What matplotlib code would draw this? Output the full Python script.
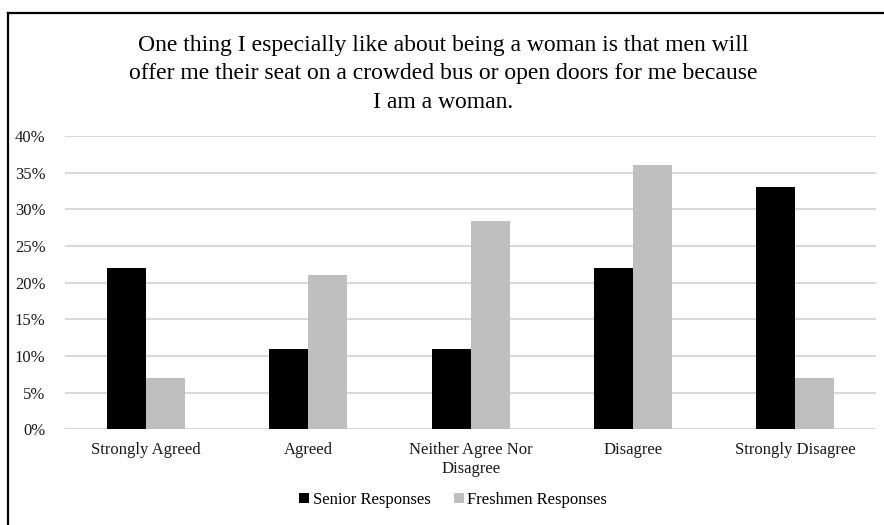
import matplotlib
matplotlib.use("Agg")
import matplotlib.pyplot as plt
from matplotlib.lines import Line2D
import numpy as np

categories = ["Strongly Agreed", "Agreed", "Neither Agree Nor\nDisagree",
              "Disagree", "Strongly Disagree"]
senior = [0.22, 0.11, 0.11, 0.22, 0.33]
freshmen = [0.07, 0.21, 0.284, 0.361, 0.07]
yticks = [0, 0.05, 0.10, 0.15, 0.20, 0.25, 0.30, 0.35, 0.40]
title = ("One thing I especially like about being a woman is that men will\n"
         "offer me their seat on a crowded bus or open doors for me because\n"
         "I am a woman.")

plt.rcParams['font.family'] = ['Liberation Serif', 'DejaVu Serif']

fig = plt.figure(figsize=(8.84, 5.25), dpi=100)
ax = fig.add_axes([0.0735, 0.1823, 0.918, 0.5587])

x = np.arange(len(categories))
w = 0.24
ax.bar(x - w / 2, senior, w, color="black", label="Senior Responses", zorder=3)
ax.bar(x + w / 2, freshmen, w, color="#bfbfbf", label="Freshmen Responses", zorder=3)

ax.set_xlim(-0.5, len(categories) - 0.5)
ax.set_ylim(0, 0.40)
ax.set_yticks(yticks)
ax.set_yticklabels([f"{int(round(t * 100))}%" for t in yticks])
ax.set_xticks(x)
ax.set_xticklabels(categories, linespacing=1.25)
ax.tick_params(axis="both", length=0, labelsize=12, colors="#1a1a1a")
ax.tick_params(axis="y", pad=14)
ax.tick_params(axis="x", pad=9)
ax.grid(axis="y", color="#d9d9d9", lw=1.5, zorder=0)
for s in ax.spines.values():
    s.set_visible(False)

fig.text(0.501, 1 - 74 / 525, title, ha="center", va="center",
         fontsize=17, linespacing=1.45)

fig.legend(loc="center", bbox_to_anchor=(453 / 884, 1 - 500 / 525), ncol=2,
           frameon=False, fontsize=12, handlelength=0.6, handleheight=0.6,
           handletextpad=0.2, columnspacing=1.4)

# outer frame (top and left edges only are visible)
fig.add_artist(Line2D([8 / 884, 1.0], [1 - 13 / 525, 1 - 13 / 525],
                      transform=fig.transFigure, color="black", lw=1.6))
fig.add_artist(Line2D([8 / 884, 8 / 884], [0, 1 - 13 / 525],
                      transform=fig.transFigure, color="black", lw=1.6))

fig.savefig("out.png", dpi=100)
